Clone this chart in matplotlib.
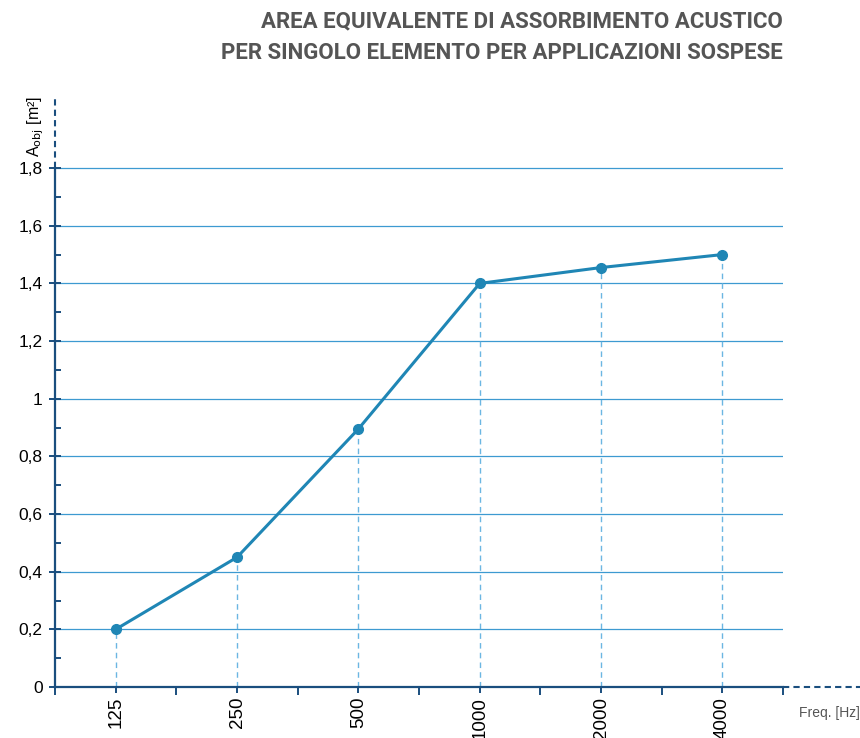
import matplotlib.pyplot as plt
from matplotlib.ticker import FixedLocator

freq_labels = ['125', '250', '500', '1000', '2000', '4000']
aobj = [0.20, 0.45, 0.895, 1.40, 1.455, 1.50]
y_ticks = [0, 0.2, 0.4, 0.6, 0.8, 1.0, 1.2, 1.4, 1.6, 1.8]
y_tick_labels = ['0', '0,2', '0,4', '0,6', '0,8', '1', '1,2', '1,4', '1,6', '1,8']

plt.rcParams['font.family'] = ['Liberation Sans', 'DejaVu Sans']

axis_col = '#1a4e7e'
line_col = '#1f86b5'
grid_col = '#3d9ad1'

fig = plt.figure(figsize=(8.6, 7.38), dpi=100)
ax = fig.add_axes([0.064, 0.0691, 0.8465, 0.8008])

# data at odd positions, minor ticks in between
xpos = [2 * i + 1 for i in range(len(freq_labels))]
ax.set_xlim(0, 12)
ax.set_ylim(0, 2.05)

for y in y_ticks[1:]:
    ax.axhline(y, color=grid_col, lw=0.9, zorder=1)
for x, v in zip(xpos, aobj):
    ax.plot([x, x], [0, v], color='#6bb6e2', lw=1, ls=(0, (4, 3)), zorder=2)

ax.plot(xpos, aobj, color=line_col, lw=2.2, marker='o', ms=7, zorder=3)

for s in ['top', 'right']:
    ax.spines[s].set_visible(False)
ax.spines['left'].set_bounds(0, 1.8)
ax.spines['left'].set_color(axis_col)
ax.spines['bottom'].set_color(axis_col)
ax.spines['left'].set_linewidth(1.6)
ax.spines['bottom'].set_linewidth(1.6)

# dashed axis continuations
ax.plot([0, 0], [1.8, 2.05], color=axis_col, lw=1.5, ls=(0, (3, 2)), clip_on=False)
ax.plot([12, 13.4], [0, 0], color=axis_col, lw=1.5, ls=(0, (3, 2)), clip_on=False)

ax.xaxis.set_major_locator(FixedLocator(xpos))
ax.xaxis.set_minor_locator(FixedLocator([0, 2, 4, 6, 8, 10, 12]))
ax.set_xticklabels(freq_labels, rotation=90, fontsize=13.5)
ax.tick_params(axis='x', which='major', length=4, width=1.4, color=axis_col, pad=3)
ax.tick_params(axis='x', which='minor', length=6, width=1.4, color=axis_col)

ax.set_yticks(y_ticks)
ax.set_yticklabels(y_tick_labels, fontsize=12.5)
ax.yaxis.set_minor_locator(FixedLocator([0.1 + 0.2 * i for i in range(9)]))
ax.tick_params(axis='y', which='major', direction='inout', length=8, width=1.4, color=axis_col, pad=5)
ax.tick_params(axis='y', which='minor', direction='in', length=4, width=1.4, color=axis_col)

ax.text(-0.32, 2.05, r'A$_{\mathrm{obj}}$ [m²]', rotation=90, ha='center', va='top',
        fontsize=11.5, transform=ax.transData)
ax.text(13.27, -0.09, 'Freq. [Hz]', ha='right', va='center', fontsize=10, color='#555555')

title_font = ['Roboto', 'Liberation Sans', 'DejaVu Sans']
fig.text(0.9105, 0.971, 'AREA EQUIVALENTE DI ASSORBIMENTO ACUSTICO', family=title_font,
         ha='right', va='center', fontsize=16, fontweight='bold', color='#555555')
fig.text(0.9105, 0.928, 'PER SINGOLO ELEMENTO PER APPLICAZIONI SOSPESE', family=title_font,
         ha='right', va='center', fontsize=16, fontweight='bold', color='#555555')

fig.savefig('out.png', dpi=100)
